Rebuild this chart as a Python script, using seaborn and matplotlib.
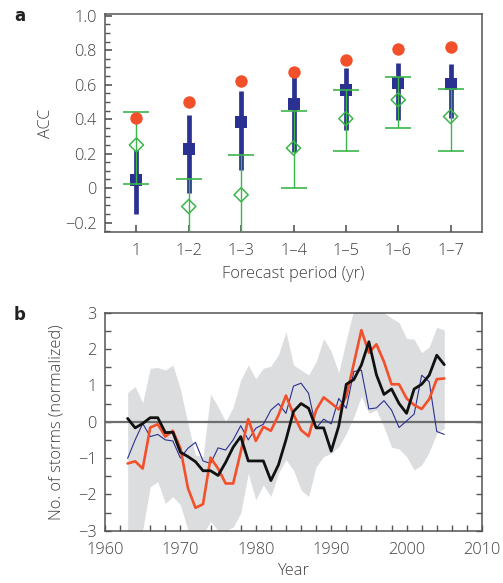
import numpy as np
import pandas as pd
import matplotlib
matplotlib.use("Agg")
import matplotlib.pyplot as plt
from matplotlib.ticker import MultipleLocator
import seaborn as sns

# ---------------- data: panel a ----------------
periods = ["1", "1\u20132", "1\u20133", "1\u20134", "1\u20135", "1\u20136", "1\u20137"]
red_acc = [0.405, 0.50, 0.623, 0.674, 0.743, 0.805, 0.82]
blue_mean = [0.048, 0.228, 0.386, 0.487, 0.57, 0.608, 0.604]
blue_low = [-0.15, -0.03, 0.102, 0.212, 0.338, 0.396, 0.405]
blue_high = [0.222, 0.425, 0.566, 0.643, 0.695, 0.724, 0.722]
green_mean = [0.25, -0.107, -0.039, 0.232, 0.403, 0.512, 0.415]
green_low = [0.025, -0.40, -0.40, -0.002, 0.216, 0.351, 0.213]
green_high = [0.444, 0.052, 0.193, 0.45, 0.57, 0.643, 0.575]

# ---------------- data: panel b ----------------
years = list(range(1963, 2006))
black_obs = [0.09, -0.17, -0.05, 0.11, 0.11, -0.30, -0.29, -0.84, -0.96, -1.10,
             -1.35, -1.35, -1.48, -1.12, -0.70, -0.41, -1.08, -1.08, -1.08, -1.62,
             -1.19, -0.50, 0.28, 0.50, 0.37, -0.17, -0.17, -0.81, -0.12, 1.03,
             1.16, 1.56, 2.20, 1.29, 0.75, 0.90, 0.50, 0.23, 0.90, 1.03,
             1.28, 1.83, 1.57]
red_fc = [-1.15, -1.09, -1.29, -0.16, -0.07, -0.41, -0.25, -0.73, -1.83, -2.37,
          -2.27, -0.99, -1.29, -1.70, -1.70, -0.83, 0.07, -0.53, -0.14, -0.25,
          0.18, 0.72, 0.20, -0.23, -0.40, 0.32, 0.67, 0.51, 0.34, 0.69,
          1.60, 2.52, 1.90, 2.13, 1.65, 1.03, 1.03, 0.64, 0.46, 0.35,
          0.62, 1.17, 1.19]
blue_fc = [-1.01, -0.50, -0.05, -0.41, -0.35, -0.50, -0.53, -1.00, -0.73, -0.57,
           -1.08, -1.15, -0.72, -0.78, -0.50, -0.11, -0.50, -0.18, -0.07, 0.32,
           0.50, 0.23, 0.98, 1.06, 0.78, -0.18, 0.07, -0.06, 0.64, 0.37,
           1.38, 1.42, 0.35, 0.38, 0.58, 0.32, -0.16, 0.02, 0.21, 1.28,
           1.10, -0.27, -0.35]
band_upper = [0.80, 0.97, 0.52, 1.47, 1.49, 1.42, 1.56, 0.89, -0.05, -0.92,
              -0.96, 0.76, 0.41, 0.00, 0.40, 1.15, 1.56, 1.18, 1.47, 1.53,
              1.84, 2.48, 1.56, 1.42, 1.29, 1.65, 2.29, 1.93, 1.35, 2.25,
              3.10, 3.40, 3.50, 3.30, 3.00, 2.85, 2.73, 2.29, 2.27, 1.90,
              2.06, 2.60, 2.52]
band_lower = [-3.5, -3.5, -2.98, -1.79, -1.65, -2.25, -2.06, -2.29, -2.98, -3.3,
              -3.1, -2.75, -3.0, -3.0, -2.9, -2.52, -1.42, -2.15, -1.74, -2.06,
              -1.42, -1.05, -1.33, -1.88, -2.06, -1.24, -0.96, -0.87, -0.69, -0.32,
              0.14, 0.70, 0.23, 0.32, -0.14, -0.70, -0.75, -0.96, -1.33, -1.19,
              -0.83, -0.32, -0.18]

# ---------------- style ----------------
RED = "#f2502a"
NAVY = "#2b3190"
GREEN = "#3cb54a"
GRAY = "#dcdddf"
TXT = "#404040"
SPINE = "#555555"

sns.set_style("ticks")
plt.rcParams["font.family"] = ["Open Sans", "DejaVu Sans"]
plt.rcParams["font.weight"] = "light"
plt.rcParams["axes.labelweight"] = "light"
plt.rcParams["text.color"] = TXT
plt.rcParams["axes.labelcolor"] = TXT
plt.rcParams["xtick.color"] = SPINE
plt.rcParams["ytick.color"] = SPINE
plt.rcParams["xtick.labelcolor"] = TXT
plt.rcParams["ytick.labelcolor"] = TXT

W, H = 503, 583
fig = plt.figure(figsize=(W / 100, H / 100), dpi=100)

def frac(l, t, r, b):
    return [l / W, 1 - b / H, (r - l) / W, (b - t) / H]

FS = 11.8

# ---------------- panel a ----------------
axa = fig.add_axes(frac(105, 14, 482, 232))
xpos = np.arange(len(periods))
dfa = pd.DataFrame({"x": xpos, "red": red_acc, "blue": blue_mean, "green": green_mean})

axa.vlines(xpos, blue_low, blue_high, color=NAVY, lw=3.4, zorder=2)
sns.scatterplot(data=dfa, x="x", y="blue", marker="s", s=70, color=NAVY,
                edgecolor=NAVY, linewidth=0, ax=axa, zorder=3)
gm = np.array(green_mean)
axa.errorbar(xpos, gm, yerr=[gm - np.array(green_low), np.array(green_high) - gm],
             fmt="none", ecolor=GREEN, elinewidth=1.0, capsize=9.5, capthick=1.2, zorder=4)
axa.scatter(xpos, gm, marker="D", s=52, facecolors="none", edgecolors=GREEN,
            linewidths=1.1, zorder=5)
sns.scatterplot(data=dfa, x="x", y="red", marker="o", s=80, color=RED,
                edgecolor=RED, linewidth=0, ax=axa, zorder=6)

axa.set_xlim(-0.6, 6.6)
axa.set_ylim(-0.255, 1.01)
axa.set_xticks(xpos)
axa.set_xticklabels(periods)
axa.set_yticks([-0.2, 0, 0.2, 0.4, 0.6, 0.8, 1.0])
axa.set_yticklabels(["\u22120.2", "0", "0.2", "0.4", "0.6", "0.8", "1.0"])
axa.yaxis.set_minor_locator(MultipleLocator(0.05))
axa.tick_params(axis="both", which="major", direction="in", length=5, width=1.2,
                labelsize=FS, pad=6)
axa.tick_params(axis="y", which="minor", direction="in", length=3.5, width=1.0)
axa.tick_params(axis="x", which="major", pad=8)
axa.set_xlabel("Forecast period (yr)", fontsize=FS, labelpad=5)
axa.set_ylabel("ACC", fontsize=FS, labelpad=8)
for sp in axa.spines.values():
    sp.set_visible(True)
    sp.set_color(SPINE)
    sp.set_linewidth(1.1)

fig.text(14 / W, 1 - 16 / H, "a", fontsize=12, fontweight="bold", color="#222222",
         va="center", ha="left", family="DejaVu Sans")

# ---------------- panel b ----------------
axb = fig.add_axes(frac(105, 312.7, 482, 530.7))
dfb = pd.DataFrame({"year": years, "black": black_obs, "red": red_fc, "blue": blue_fc,
                    "lo": band_lower, "hi": band_upper})
axb.fill_between(dfb["year"], dfb["lo"], dfb["hi"], color=GRAY, linewidth=0, zorder=1)
axb.axhline(0, color="#6e6e6e", lw=1.6, zorder=2)
sns.lineplot(data=dfb, x="year", y="blue", color=NAVY, lw=0.8, ax=axb, zorder=3)
sns.lineplot(data=dfb, x="year", y="red", color=RED, lw=1.9, ax=axb, zorder=4)
sns.lineplot(data=dfb, x="year", y="black", color="#111111", lw=2.0, ax=axb, zorder=5)

axb.set_xlim(1960, 2010)
axb.set_ylim(-3, 3)
axb.set_xticks(range(1960, 2011, 10))
axb.xaxis.set_minor_locator(MultipleLocator(2))
axb.set_yticks(range(-3, 4))
axb.set_yticklabels(["\u22123", "\u22122", "\u22121", "0", "1", "2", "3"])
axb.yaxis.set_minor_locator(MultipleLocator(0.5))
axb.tick_params(axis="both", which="both", direction="in", length=4.5, width=1.0,
                labelsize=FS, pad=6)
axb.tick_params(axis="y", which="both", right=True, labelright=False)
axb.tick_params(axis="x", which="major", pad=8)
axb.set_xlabel("Year", fontsize=FS, labelpad=4)
axb.set_ylabel("No. of storms (normalized)", fontsize=FS, labelpad=10)
for sp in axb.spines.values():
    sp.set_visible(True)
    sp.set_color(SPINE)
    sp.set_linewidth(1.1)

fig.text(14 / W, 1 - 315 / H, "b", fontsize=12, fontweight="bold", color="#222222",
         va="center", ha="left", family="DejaVu Sans")

fig.savefig("out.png", dpi=100)
